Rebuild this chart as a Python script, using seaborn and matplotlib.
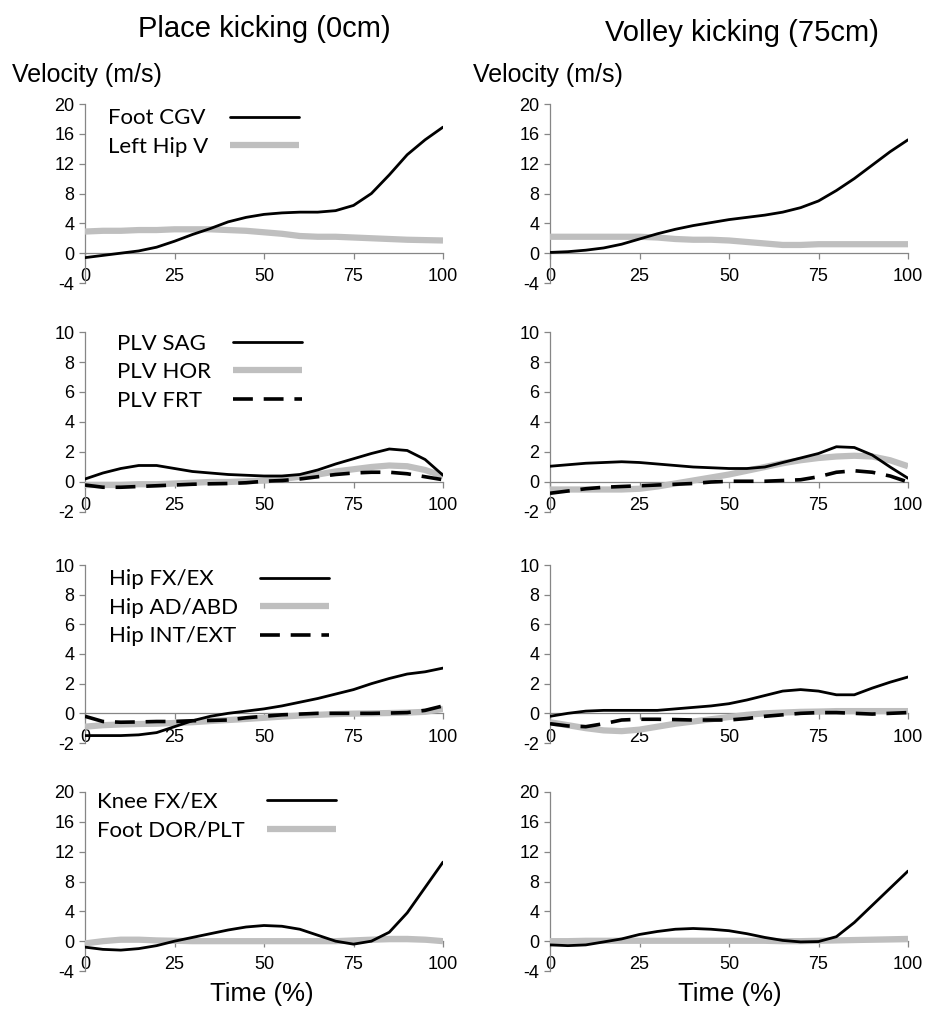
"""
Segment velocities during place vs volley kicking, redrawn with seaborn
"""

import numpy as np
import pandas as pd
import matplotlib.pyplot as plt
import seaborn as sns

# ---- data ----
time_pct = list(range(0, 101, 5))

# Place kicking (0cm)
place_foot_cgv = [-0.6, -0.3, 0.0, 0.3, 0.8, 1.6, 2.5, 3.3, 4.2, 4.8, 5.2, 5.4, 5.5, 5.5, 5.7, 6.4, 8.0, 10.5, 13.2, 15.2, 16.9]
place_left_hip = [2.9, 3.0, 3.0, 3.1, 3.1, 3.2, 3.2, 3.2, 3.1, 3.0, 2.8, 2.6, 2.3, 2.2, 2.2, 2.1, 2.0, 1.9, 1.8, 1.75, 1.7]
place_plv_sag = [0.2, 0.6, 0.9, 1.1, 1.1, 0.9, 0.7, 0.6, 0.5, 0.45, 0.4, 0.4, 0.5, 0.8, 1.2, 1.55, 1.9, 2.2, 2.1, 1.5, 0.45]
place_plv_hor = [-0.2, -0.2, -0.2, -0.15, -0.15, -0.1, -0.05, 0.0, 0.0, 0.05, 0.1, 0.2, 0.35, 0.5, 0.7, 0.85, 1.0, 1.1, 1.05, 0.8, 0.4]
place_plv_frt = [-0.2, -0.35, -0.35, -0.3, -0.25, -0.2, -0.15, -0.12, -0.1, -0.05, 0.05, 0.1, 0.2, 0.35, 0.5, 0.6, 0.65, 0.65, 0.55, 0.35, 0.15]
place_hip_fx = [-1.5, -1.5, -1.5, -1.45, -1.3, -0.9, -0.5, -0.2, 0.0, 0.15, 0.3, 0.5, 0.75, 1.0, 1.3, 1.6, 2.0, 2.35, 2.65, 2.8, 3.05]
place_hip_ad = [-0.9, -0.8, -0.75, -0.72, -0.7, -0.65, -0.6, -0.52, -0.45, -0.38, -0.3, -0.22, -0.15, -0.1, -0.05, -0.02, 0.0, 0.02, 0.05, 0.1, 0.3]
place_hip_int = [-0.2, -0.55, -0.6, -0.58, -0.55, -0.55, -0.5, -0.48, -0.45, -0.3, -0.2, -0.1, -0.05, 0.0, 0.0, 0.0, 0.0, 0.02, 0.05, 0.2, 0.5]
place_knee_fx = [-0.8, -1.1, -1.2, -1.0, -0.6, 0.0, 0.5, 1.0, 1.5, 1.9, 2.1, 2.0, 1.6, 0.8, 0.0, -0.4, 0.0, 1.2, 3.8, 7.2, 10.6]
place_foot_dor = [-0.3, 0.0, 0.2, 0.2, 0.1, 0.05, 0.0, 0.0, 0.0, 0.0, 0.0, 0.0, 0.0, 0.0, 0.0, 0.1, 0.2, 0.3, 0.3, 0.2, 0.0]

# Volley kicking (75cm)
volley_foot_cgv = [0.1, 0.2, 0.4, 0.7, 1.2, 1.9, 2.6, 3.2, 3.7, 4.1, 4.5, 4.8, 5.1, 5.5, 6.1, 7.0, 8.4, 10.0, 11.8, 13.6, 15.2]
volley_left_hip = [2.2, 2.2, 2.2, 2.2, 2.2, 2.2, 2.1, 1.9, 1.8, 1.8, 1.7, 1.5, 1.3, 1.1, 1.1, 1.2, 1.2, 1.2, 1.2, 1.2, 1.2]
volley_plv_sag = [1.05, 1.15, 1.25, 1.3, 1.35, 1.3, 1.2, 1.1, 1.0, 0.95, 0.9, 0.9, 1.0, 1.3, 1.6, 1.9, 2.35, 2.3, 1.8, 1.0, 0.25]
volley_plv_hor = [-0.5, -0.5, -0.5, -0.5, -0.5, -0.45, -0.3, -0.1, 0.1, 0.3, 0.5, 0.75, 1.0, 1.25, 1.45, 1.6, 1.7, 1.75, 1.7, 1.45, 1.05]
volley_plv_frt = [-0.75, -0.6, -0.45, -0.35, -0.3, -0.25, -0.2, -0.15, -0.1, 0.0, 0.05, 0.05, 0.05, 0.1, 0.15, 0.35, 0.65, 0.75, 0.65, 0.4, 0.0]
volley_hip_fx = [-0.2, 0.0, 0.15, 0.2, 0.2, 0.2, 0.2, 0.3, 0.4, 0.5, 0.65, 0.9, 1.2, 1.5, 1.6, 1.5, 1.25, 1.25, 1.7, 2.1, 2.45]
volley_hip_ad = [-0.6, -0.8, -1.0, -1.15, -1.2, -1.1, -0.9, -0.7, -0.55, -0.4, -0.25, -0.1, 0.0, 0.05, 0.1, 0.12, 0.15, 0.15, 0.15, 0.15, 0.15]
volley_hip_int = [-0.7, -0.85, -0.9, -0.7, -0.45, -0.4, -0.4, -0.42, -0.45, -0.45, -0.45, -0.35, -0.2, -0.1, 0.0, 0.05, 0.05, 0.0, -0.05, 0.0, 0.05]
volley_knee_fx = [-0.5, -0.6, -0.5, -0.1, 0.3, 0.9, 1.3, 1.6, 1.7, 1.6, 1.4, 1.0, 0.5, 0.1, -0.1, -0.05, 0.6, 2.5, 4.8, 7.1, 9.4]
volley_foot_dor = [0.0, 0.0, 0.05, 0.05, 0.05, 0.05, 0.05, 0.05, 0.05, 0.05, 0.05, 0.05, 0.05, 0.0, 0.0, 0.05, 0.1, 0.15, 0.2, 0.25, 0.3]

column_titles = ["Place kicking (0cm)", "Volley kicking (75cm)"]
x_ticks = [0, 25, 50, 75, 100]

# ---- styles ----
BLACK = "#000000"
GRAY = "#bfbfbf"
SPINE = "#868686"
STYLE = {
    "solid": dict(color=BLACK, lw=2.0, zorder=4),
    "thick": dict(color=GRAY, lw=4.5, zorder=3, solid_capstyle="butt"),
    "dash": dict(color=BLACK, lw=2.6, zorder=4, linestyle=(0, (5.5, 3))),
}

# rows: series per column, y range, step, pixel extent, legend anchor
rows = [
    {"labels": ["Foot CGV", "Left Hip V"], "kinds": ["solid", "thick"],
     "place": [place_foot_cgv, place_left_hip], "volley": [volley_foot_cgv, volley_left_hip],
     "ylim": (-4, 20), "step": 4, "px": (104, 283), "anchor": (0.064, 0.975)},
    {"labels": ["PLV SAG", "PLV HOR", "PLV FRT"], "kinds": ["solid", "thick", "dash"],
     "place": [place_plv_sag, place_plv_hor, place_plv_frt], "volley": [volley_plv_sag, volley_plv_hor, volley_plv_frt],
     "ylim": (-2, 10), "step": 2, "px": (332, 512), "anchor": (0.09, 0.99)},
    {"labels": ["Hip FX/EX", "Hip AD/ABD", "Hip INT/EXT"], "kinds": ["solid", "thick", "dash"],
     "place": [place_hip_fx, place_hip_ad, place_hip_int], "volley": [volley_hip_fx, volley_hip_ad, volley_hip_int],
     "ylim": (-2, 10), "step": 2, "px": (565, 743), "anchor": (0.067, 0.975)},
    {"labels": ["Knee FX/EX", "Foot DOR/PLT"], "kinds": ["solid", "thick"],
     "place": [place_knee_fx, place_foot_dor], "volley": [volley_knee_fx, volley_foot_dor],
     "ylim": (-4, 20), "step": 4, "px": (792, 971), "anchor": (0.034, 1.0)},
]

W, H = 926, 1010
COL_X = [(85, 443), (550, 908)]

sns.set_theme(style="white")
plt.rcParams["font.family"] = ["Liberation Sans", "DejaVu Sans"]
plt.rcParams["axes.unicode_minus"] = False
plt.rcParams["text.color"] = "black"

fig = plt.figure(figsize=(W / 100, H / 100), dpi=100)


def style_axes(ax, ylim, step):
    ax.set_xlim(0, 100)
    ax.set_ylim(*ylim)
    ax.set_yticks(np.arange(ylim[0], ylim[1] + 1, step))
    ax.set_xticks(x_ticks)
    ax.spines["bottom"].set_position(("data", 0))
    ax.spines["top"].set_visible(False)
    ax.spines["right"].set_visible(False)
    for side in ("left", "bottom"):
        ax.spines[side].set_color(SPINE)
        ax.spines[side].set_linewidth(0.9)
    ax.tick_params(axis="y", left=True, direction="out", length=4, width=0.9,
                   color=SPINE, labelsize=13, pad=3.5, labelcolor="black")
    ax.tick_params(axis="x", bottom=True, direction="out", length=4, width=0.9,
                   color=SPINE, labelsize=13, pad=7, labelcolor="black")
    ax.set_xlabel("")
    ax.set_ylabel("")
    ax.grid(False)


def add_legend(ax, anchor):
    leg = ax.legend(loc="upper left", bbox_to_anchor=anchor, frameon=False,
                    markerfirst=False, prop={"family": "Lato", "size": 16},
                    handlelength=3.1, handletextpad=1.0, labelspacing=0.38,
                    borderpad=0, borderaxespad=0, labelcolor="black")
    # line up text on the left and handles in one column, like the original
    renderer = fig.canvas.get_renderer()
    px_per_pt = fig.dpi / 72.0
    for col in leg._legend_handle_box.get_children():
        col.align = "left"
        items = col.get_children()
        widths = [it.get_children()[0].get_bbox(renderer).width for it in items]
        for it, w in zip(items, widths):
            it.sep = it.sep + (max(widths) - w) / px_per_pt


for row in rows:
    top, bottom = row["px"]
    for c, key in enumerate(["place", "volley"]):
        x0, x1 = COL_X[c]
        ax = fig.add_axes([x0 / W, 1 - bottom / H, (x1 - x0) / W, (bottom - top) / H])
        df = pd.DataFrame({"time": time_pct})
        for label, values in zip(row["labels"], row[key]):
            df[label] = values
        for label, kind in zip(row["labels"], row["kinds"]):
            sns.lineplot(data=df, x="time", y=label, ax=ax, label=label if c == 0 else None,
                         legend=c == 0, **STYLE[kind])
        style_axes(ax, row["ylim"], row["step"])
        if c == 0:
            add_legend(ax, row["anchor"])
        elif ax.get_legend() is not None:
            ax.get_legend().remove()

# column titles and axis labels
fig.text(264 / W, 1 - 29 / H, column_titles[0], ha="center", va="center", fontsize=21)
fig.text(742 / W, 1 - 33 / H, column_titles[1], ha="center", va="center", fontsize=21)
fig.text(12 / W, 1 - 75 / H, "Velocity (m/s)", ha="left", va="center", fontsize=18)
fig.text(473 / W, 1 - 75 / H, "Velocity (m/s)", ha="left", va="center", fontsize=18)
fig.text(262 / W, 1 - 994 / H, "Time (%)", ha="center", va="center", fontsize=18.5)
fig.text(730 / W, 1 - 994 / H, "Time (%)", ha="center", va="center", fontsize=18.5)

plt.savefig("out.png", dpi=100)
